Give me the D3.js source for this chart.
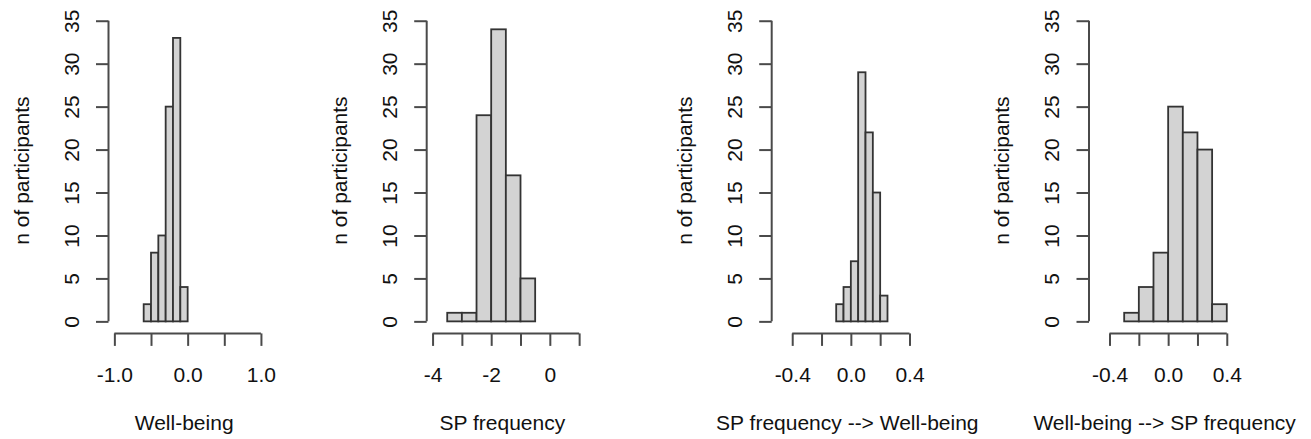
<!DOCTYPE html>
<html>
<head>
<meta charset="utf-8">
<script src="https://cdn.jsdelivr.net/npm/d3@7"></script>
<style>
  body { margin: 0; background: #fff; }
  svg { display: block; font-family: "Liberation Sans", Arial, sans-serif; }
</style>
</head>
<body>
<svg id="chart" width="1311" height="439"></svg>
<script>
// histogram bin edges and counts
var wbBreaks = [-0.6, -0.5, -0.4, -0.3, -0.2, -0.1, 0.0];
var wbCounts = [2, 8, 10, 25, 33, 4];

var spBreaks = [-3.5, -3.0, -2.5, -2.0, -1.5, -1.0, -0.5];
var spCounts = [1, 1, 24, 34, 17, 5];

var sp2wbBreaks = [-0.1, -0.05, 0.0, 0.05, 0.1, 0.15, 0.2, 0.25];
var sp2wbCounts = [2, 4, 7, 29, 22, 15, 3];

var wb2spBreaks = [-0.3, -0.2, -0.1, 0.0, 0.1, 0.2, 0.3, 0.4];
var wb2spCounts = [1, 4, 8, 25, 22, 20, 2];

var xLabels = ['Well-being', 'SP frequency', 'SP frequency -->  Well-being', 'Well-being --> SP frequency'];
var yLabel = 'n of participants';
var yTicks = [0, 5, 10, 15, 20, 25, 30, 35];

var panels = [
  { breaks: wbBreaks, counts: wbCounts, xlim: [-1, 1], ticks: [-1, -0.5, 0, 0.5, 1], shown: [-1, 0, 1], fmt: d3.format('.1f'), left: 108.5 },
  { breaks: spBreaks, counts: spCounts, xlim: [-4, 1], ticks: [-4, -3, -2, -1, 0, 1], shown: [-4, -2, 0], fmt: d3.format('d'), left: 426.7 },
  { breaks: sp2wbBreaks, counts: sp2wbCounts, xlim: [-0.5, 0.5], ticks: [-0.4, -0.2, 0, 0.2, 0.4], shown: [-0.4, 0, 0.4], fmt: d3.format('.1f'), left: 771.7 },
  { breaks: wb2spBreaks, counts: wb2spCounts, xlim: [-0.5, 0.5], ticks: [-0.4, -0.2, 0, 0.2, 0.4], shown: [-0.4, 0, 0.4], fmt: d3.format('.1f'), left: 1089 }
];

var plotW = 158.3;
var plotTop = 8.7, plotBottom = 333.4;
var fontSize = 21;
var axisCol = '#4a4a4a';

var svg = d3.select('#chart');

// R style: 4% padding on each side of the limits
var y = d3.scaleLinear().domain([-1.4, 36.4]).range([plotBottom, plotTop]);

var minus = function(s) { return s.replace('\u2212', '-'); };

panels.forEach(function(p, i) {
  var pad = (p.xlim[1] - p.xlim[0]) * 0.04;
  var x = d3.scaleLinear()
    .domain([p.xlim[0] - pad, p.xlim[1] + pad])
    .range([p.left, p.left + plotW]);

  var g = svg.append('g');

  var bins = p.counts.map(function(c, j) {
    return { x0: p.breaks[j], x1: p.breaks[j + 1], n: c };
  });

  g.selectAll('rect.bar')
    .data(bins)
    .enter().append('rect')
    .attr('class', 'bar')
    .attr('x', function(d) { return x(d.x0); })
    .attr('width', function(d) { return x(d.x1) - x(d.x0); })
    .attr('y', function(d) { return y(d.n); })
    .attr('height', function(d) { return y(0) - y(d.n); })
    .attr('fill', '#d3d3d3')
    .attr('stroke', '#333')
    .attr('stroke-width', 1.8);

  // x axis
  var xAxis = d3.axisBottom(x)
    .tickValues(p.ticks)
    .tickSize(12.5)
    .tickSizeOuter(0)
    .tickFormat(function(d) {
      return p.shown.some(function(s) { return Math.abs(s - d) < 1e-9; }) ? minus(p.fmt(d)) : '';
    });
  var gx = g.append('g').attr('transform', 'translate(0,' + plotBottom + ')').call(xAxis);
  gx.select('.domain').remove();
  gx.append('line')
    .attr('x1', x(p.ticks[0])).attr('x2', x(p.ticks[p.ticks.length - 1]))
    .attr('stroke', axisCol).attr('stroke-width', 2);
  gx.selectAll('.tick line').attr('stroke', axisCol).attr('stroke-width', 2);
  gx.selectAll('.tick text')
    .attr('y', 48.3).attr('dy', 0)
    .attr('fill', '#111')
    .style('font-size', fontSize + 'px');

  // y axis
  var yAxis = d3.axisLeft(y)
    .tickValues(yTicks)
    .tickSize(12.5)
    .tickSizeOuter(0);
  var gy = g.append('g').attr('transform', 'translate(' + p.left + ',0)').call(yAxis);
  gy.select('.domain').remove();
  gy.append('line')
    .attr('y1', y(0)).attr('y2', y(35))
    .attr('stroke', axisCol).attr('stroke-width', 2);
  gy.selectAll('.tick line').attr('stroke', axisCol).attr('stroke-width', 2);
  gy.selectAll('.tick text')
    .attr('x', 0).attr('dy', 0)
    .attr('text-anchor', 'middle')
    .attr('transform', 'translate(-30,0) rotate(-90)')
    .attr('fill', '#111')
    .style('font-size', fontSize + 'px');

  // axis titles
  g.append('text')
    .attr('x', p.left + plotW / 2 - 3.5)
    .attr('y', 430)
    .attr('text-anchor', 'middle')
    .attr('fill', '#111')
    .style('font-size', fontSize + 'px')
    .text(xLabels[i]);

  g.append('text')
    .attr('transform', 'translate(' + (p.left - 80) + ',' + ((plotTop + plotBottom) / 2 - 0.5) + ') rotate(-90)')
    .attr('text-anchor', 'middle')
    .attr('fill', '#111')
    .style('font-size', fontSize + 'px')
    .text(yLabel);
});
</script>
</body>
</html>
